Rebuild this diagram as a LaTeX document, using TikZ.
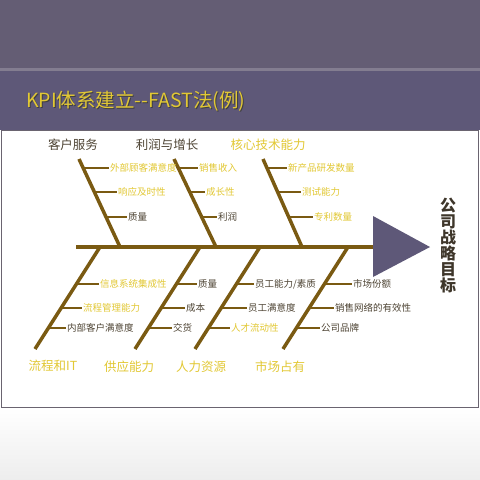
\documentclass[tikz,border=0pt]{standalone}
\usepackage{fontspec}
\setmainfont{Noto Sans CJK SC}
\usepackage{tikz}

\definecolor{topgray}{HTML}{645D74}
\definecolor{headpurple}{HTML}{5E5878}
\definecolor{bonebrown}{HTML}{7A5A12}
\definecolor{goldtext}{HTML}{E2C834}
\definecolor{darktext}{HTML}{4E4434}
\definecolor{panelline}{HTML}{6A6470}

\begin{document}
\begin{tikzpicture}[x=1pt,y=-1pt,
	spine/.style={draw=bonebrown,line width=4.5pt},
	bone/.style={draw=bonebrown,line width=3.5pt},
	rib/.style={draw=bonebrown,line width=2.5pt},
	lbl/.style={anchor=west,inner sep=1pt,text=darktext,font=\fontsize{9.5}{10}\selectfont},
	lbly/.style={lbl,text=goldtext},
	cat/.style={inner sep=1pt,text=darktext,font=\fontsize{12.5}{13}\selectfont},
	caty/.style={cat,text=goldtext}]

	\useasboundingbox (0,0) rectangle (480,480);

	\fill[topgray] (0,0) rectangle (480,69);
	\fill[topgray!80!white] (0,67.5) rectangle (480,71);
	\fill[headpurple] (0,71) rectangle (480,130);
	\fill[top color=white,bottom color=black!7] (0,407) rectangle (480,480);
	\filldraw[fill=white,draw=panelline,line width=0.8pt] (1,130) rectangle (478.5,407);

	\node[anchor=west,inner sep=0pt,text=black!75,font=\fontsize{19.5}{20}\selectfont] (titleshadow) at (27,102.5) {KPI体系建立-{}-FAST法(例)};
	\node[anchor=west,inner sep=0pt,text=goldtext,font=\fontsize{19.5}{20}\selectfont] (title) at (26,101.5) {KPI体系建立-{}-FAST法(例)};

	\coordinate (tail) at (76,247);
	\coordinate (head) at (376,247);
	\coordinate (tipA) at (373,216);
	\coordinate (tip) at (430,247);
	\coordinate (tipB) at (373,277);
	\draw[spine] (tail) -- (head);
	\fill[headpurple] (tipA) -- (tip) -- (tipB) -- cycle;

	\node[align=center,text=darktext!80!black,font=\bfseries\fontsize{16}{16}\selectfont] (goal) at (448,246) {公\\司\\战\\略\\目\\标};

	\node[cat] (c1) at (73,145) {客户服务};
	\node[cat] (c2) at (167,145) {利润与增长};
	\node[caty] (c3) at (268,145) {核心技术能力};
	\node[caty] (c4) at (53,366) {流程和IT};
	\node[caty] (c5) at (129,367) {供应能力};
	\node[caty] (c6) at (201,367) {人力资源};
	\node[caty] (c7) at (280,367) {市场占有};

	\coordinate (b1t) at (79,159);
	\coordinate (b1b) at (120,247);
	\coordinate (b2t) at (174,159);
	\coordinate (b2b) at (216,247);
	\coordinate (b3t) at (263,159);
	\coordinate (b3b) at (302,247);
	\coordinate (b4t) at (100,247);
	\coordinate (b4b) at (35,349);
	\coordinate (b5t) at (200,247);
	\coordinate (b5b) at (135,349);
	\coordinate (b6t) at (260,247);
	\coordinate (b6b) at (195,349);
	\coordinate (b7t) at (348,247);
	\coordinate (b7b) at (283,349);

	\draw[bone] (b1t) -- (b1b);
	\draw[bone] (b2t) -- (b2b);
	\draw[bone] (b3t) -- (b3b);
	\draw[bone] (b4t) -- (b4b);
	\draw[bone] (b5t) -- (b5b);
	\draw[bone] (b6t) -- (b6b);
	\draw[bone] (b7t) -- (b7b);

	\coordinate (p11) at (83,168);
	\coordinate (p12) at (94,192);
	\coordinate (p13) at (106,217);
	\node[lbly] (l11) at (109,168) {外部顾客满意度};
	\node[lbly] (l12) at (117,192) {响应及时性};
	\node[lbl] (l13) at (127,217) {质量};

	\coordinate (p21) at (178,168);
	\coordinate (p22) at (189,192);
	\coordinate (p23) at (201,217);
	\node[lbly] (l21) at (198,168) {销售收入};
	\node[lbly] (l22) at (205,192) {成长性};
	\node[lbl] (l23) at (217,217) {利润};

	\coordinate (p31) at (267,168);
	\coordinate (p32) at (278,192);
	\coordinate (p33) at (290,217);
	\node[lbly] (l31) at (287,168) {新产品研发数量};
	\node[lbly] (l32) at (301,192) {测试能力};
	\node[lbly] (l33) at (313,217) {专利数量};

	\coordinate (p41) at (76,284);
	\coordinate (p42) at (61,308);
	\coordinate (p43) at (48,328);
	\node[lbly] (l41) at (99,284) {信息系统集成性};
	\node[lbly] (l42) at (82,308) {流程管理能力};
	\node[lbl] (l43) at (66,328) {内部客户满意度};

	\coordinate (p51) at (176,284);
	\coordinate (p52) at (161,308);
	\coordinate (p53) at (148,328);
	\node[lbl] (l51) at (197,284) {质量};
	\node[lbl] (l52) at (185,308) {成本};
	\node[lbl] (l53) at (172,328) {交货};

	\coordinate (p61) at (236,284);
	\coordinate (p62) at (221,308);
	\coordinate (p63) at (208,328);
	\node[lbl] (l61) at (254,284) {员工能力/素质};
	\node[lbl] (l62) at (247,308) {员工满意度};
	\node[lbly] (l63) at (230,328) {人才流动性};

	\coordinate (p71) at (324,284);
	\coordinate (p72) at (309,308);
	\coordinate (p73) at (296,328);
	\node[lbl] (l71) at (352,284) {市场份额};
	\node[lbl] (l72) at (334,308) {销售网络的有效性};
	\node[lbl] (l73) at (320,328) {公司品牌};

	\draw[rib] (p11) -- (l11.west);
	\draw[rib] (p12) -- (l12.west);
	\draw[rib] (p13) -- (l13.west);
	\draw[rib] (p21) -- (l21.west);
	\draw[rib] (p22) -- (l22.west);
	\draw[rib] (p23) -- (l23.west);
	\draw[rib] (p31) -- (l31.west);
	\draw[rib] (p32) -- (l32.west);
	\draw[rib] (p33) -- (l33.west);
	\draw[rib] (p41) -- (l41.west);
	\draw[rib] (p42) -- (l42.west);
	\draw[rib] (p43) -- (l43.west);
	\draw[rib] (p51) -- (l51.west);
	\draw[rib] (p52) -- (l52.west);
	\draw[rib] (p53) -- (l53.west);
	\draw[rib] (p61) -- (l61.west);
	\draw[rib] (p62) -- (l62.west);
	\draw[rib] (p63) -- (l63.west);
	\draw[rib] (p71) -- (l71.west);
	\draw[rib] (p72) -- (l72.west);
	\draw[rib] (p73) -- (l73.west);

\end{tikzpicture}
\end{document}
